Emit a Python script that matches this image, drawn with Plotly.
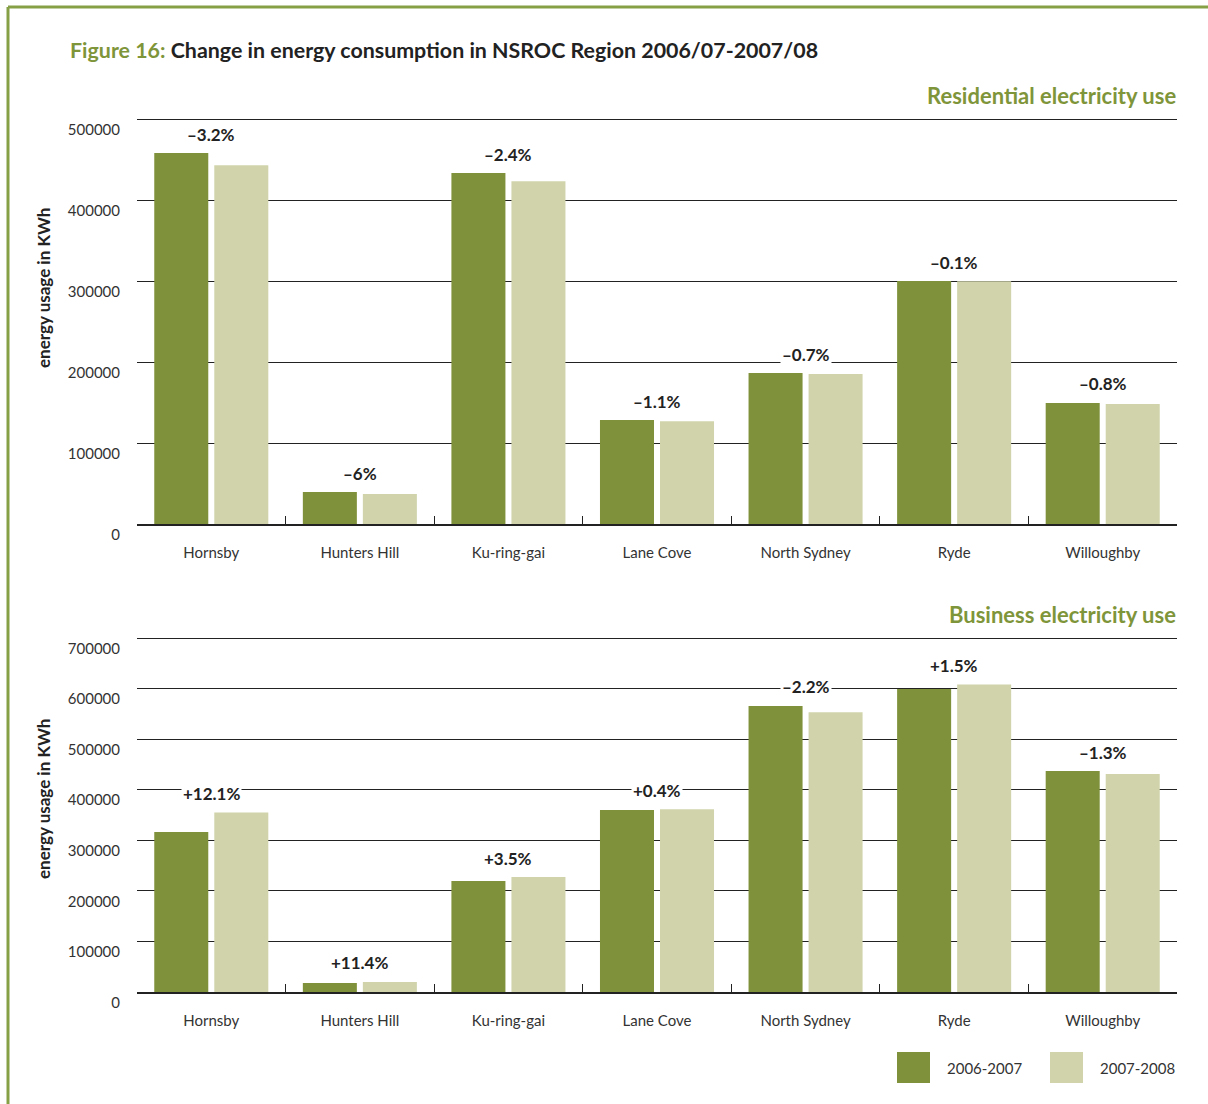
import plotly.graph_objects as go
from plotly.subplots import make_subplots

# Councils in the NSROC region
councils = ["Hornsby", "Hunters Hill", "Ku-ring-gai", "Lane Cove",
            "North Sydney", "Ryde", "Willoughby"]
periods = ["2006-2007", "2007-2008"]

# Residential electricity use (kWh)
res_0607 = [458000, 39500, 433300, 128400, 186400, 300000, 149400]
res_0708 = [443000, 37100, 423000, 127000, 185100, 299700, 148200]
res_change = ["–3.2%", "–6%", "–2.4%", "–1.1%", "–0.7%", "–0.1%", "–0.8%"]

# Business electricity use (kWh)
bus_0607 = [316400, 17800, 219500, 359900, 565600, 599200, 437000]
bus_0708 = [354700, 19800, 227200, 361300, 553200, 608200, 431300]
bus_change = ["+12.1%", "+11.4%", "+3.5%", "+0.4%", "–2.2%", "+1.5%", "–1.3%"]

DARK = "#7f913a"
LIGHT = "#d1d4ab"
GREEN_TXT = "#7f953a"
BORDER = "#86a046"
TXT = "#333333"
FONT = "Lato"

W, H = 1208, 1104


def px(x):
    return x / W


def py(y):
    return 1 - y / H


fig = make_subplots(rows=2, cols=1)

for row, (a, b) in enumerate([(res_0607, res_0708), (bus_0607, bus_0708)], start=1):
    fig.add_trace(go.Bar(x=councils, y=a, name=periods[0], marker_color=DARK,
                         marker_line_width=0, showlegend=False), row=row, col=1)
    fig.add_trace(go.Bar(x=councils, y=b, name=periods[1], marker_color=LIGHT,
                         marker_line_width=0, showlegend=False), row=row, col=1)

annotations = []
# percentage change labels above each pair of bars
for axis, a, b, labels in [("y", res_0607, res_0708, res_change),
                           ("y2", bus_0607, bus_0708, bus_change)]:
    xref = "x" if axis == "y" else "x2"
    for c, v1, v2, lab in zip(councils, a, b, labels):
        annotations.append(dict(
            x=c, y=max(v1, v2), xref=xref, yref=axis, text="<b>%s</b>" % lab,
            showarrow=False, yshift=19, yanchor="middle",
            bgcolor="white", borderpad=1,
            font=dict(family=FONT, size=17, color="#222222")))

# headings
annotations += [
    dict(x=px(68), y=py(50), xref="paper", yref="paper", xanchor="left",
         yanchor="middle", showarrow=False,
         text="<b><span style='color:%s'>Figure 16:</span> Change in energy consumption in NSROC Region 2006/07-2007/08</b>" % GREEN_TXT,
         font=dict(family=FONT, size=21.4, color="#222222")),
    dict(x=px(1178), y=py(96), xref="paper", yref="paper", xanchor="right",
         yanchor="middle", showarrow=False, text="<b>Residential electricity use</b>",
         font=dict(family=FONT, size=22, color=GREEN_TXT)),
    dict(x=px(1178), y=py(614), xref="paper", yref="paper", xanchor="right",
         yanchor="middle", showarrow=False, text="<b>Business electricity use</b>",
         font=dict(family=FONT, size=22, color=GREEN_TXT)),
]

# vertical axis titles
for yc in (288, 799):
    annotations.append(dict(x=px(43), y=py(yc), xref="paper", yref="paper",
                            xanchor="center", yanchor="middle", showarrow=False,
                            textangle=-90, text="<b>energy usage in KWh</b>",
                            font=dict(family=FONT, size=17, color="#222222")))

# legend
shapes = []
for (x0, col, lab) in [(897, DARK, periods[0]), (1050, LIGHT, periods[1])]:
    shapes.append(dict(type="rect", xref="paper", yref="paper",
                       x0=px(x0), x1=px(x0 + 33), y0=py(1083), y1=py(1052),
                       fillcolor=col, line_width=0))
    annotations.append(dict(x=px(x0 + 48), y=py(1068), xref="paper", yref="paper",
                            xanchor="left", yanchor="middle", showarrow=False,
                            text=lab, font=dict(family=FONT, size=15, color=TXT)))

# frame lines along top and left edge
shapes += [
    dict(type="line", xref="paper", yref="paper", x0=px(8), x1=1, y0=py(7), y1=py(7),
         line=dict(color=BORDER, width=3)),
    dict(type="line", xref="paper", yref="paper", x0=px(8), x1=px(8), y0=py(7), y1=0,
         line=dict(color=BORDER, width=3)),
]

fig.update_layout(
    width=W, height=H, autosize=False,
    margin=dict(l=0, r=0, t=0, b=0, autoexpand=False),
    plot_bgcolor="white", paper_bgcolor="white",
    barmode="group", bargap=0.192, bargroupgap=0.1,
    font=dict(family=FONT, size=16, color=TXT),
    annotations=annotations, shapes=shapes, showlegend=False,
)

xaxis_style = dict(type="category", showline=True, linecolor="#222222", linewidth=1.5,
                   ticks="inside", tickson="boundaries", ticklen=8, tickwidth=1.2,
                   tickcolor="#222222", showgrid=False, automargin=False,
                   tickfont=dict(family=FONT, size=15, color=TXT),
                   ticklabelstandoff=14, domain=[px(137), px(1177)])
fig.update_xaxes(**xaxis_style)

yaxis_style = dict(showline=False, zeroline=False, showgrid=True, gridcolor="#222222",
                   gridwidth=1.2, ticks="", ticklabelposition="outside bottom",
                   automargin=False,
                   tickfont=dict(family=FONT, size=15, color=TXT),
                   ticklabelstandoff=16)
fig.update_yaxes(**yaxis_style)
# top of each range nudged a hair past the last gridline so it is drawn
fig.update_yaxes(range=[0, 502000], tickvals=[0, 100000, 200000, 300000, 400000, 500000],
                 tickformat="d", domain=[py(524), py(524 - 405 * 1.004)], row=1, col=1)
fig.update_yaxes(range=[0, 703000],
                 tickvals=[0, 100000, 200000, 300000, 400000, 500000, 600000, 700000],
                 tickformat="d", domain=[py(992), py(992 - 354 * 703 / 700)], row=2, col=1)

fig.write_html("out.html", config={"responsive": False})
